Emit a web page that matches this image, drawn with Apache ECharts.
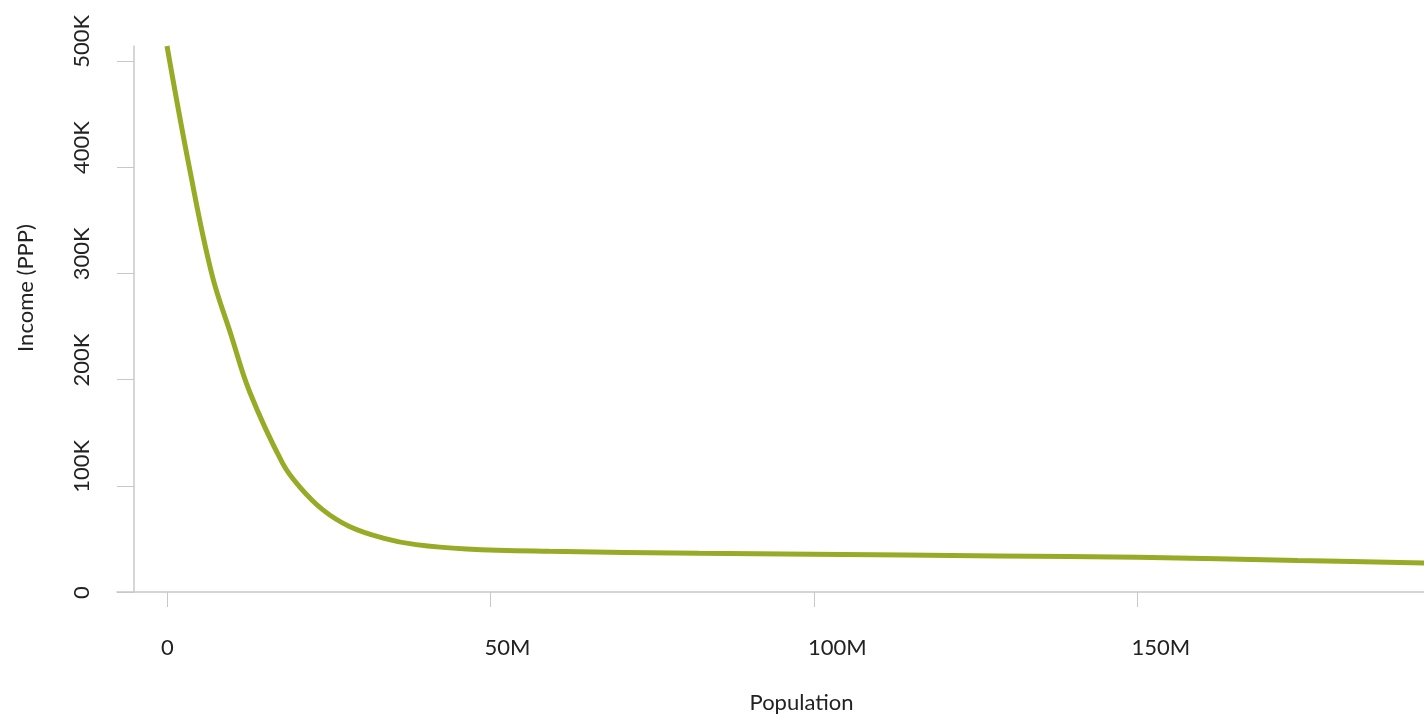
<!DOCTYPE html>
<html>
<head>
<meta charset="utf-8">
<script src="https://cdn.jsdelivr.net/npm/echarts@6/dist/echarts.min.js"></script>
<style>
html,body{margin:0;padding:0;background:#fff;overflow:hidden;}
#chart{width:1424px;height:719px;}
</style>
</head>
<body>
<div id="chart"></div>
<script>
// Population (people) vs income (PPP)
const population = [0, 3.44e6, 6.9e6, 9.9e6, 12.8e6, 17.9e6, 20.5e6, 24.1e6, 28.2e6, 33.4e6, 38.5e6, 46.3e6, 59.1e6, 82.3e6, 99.7e6, 128.5e6, 150e6, 174.8e6, 194.5e6];
const income = [514000, 400000, 300000, 242000, 188000, 120800, 99000, 77300, 61700, 50800, 44600, 40500, 38300, 36500, 35500, 34000, 32700, 29600, 27300];
const xTicks = [0, 50e6, 100e6, 150e6];
const yTicks = [0, 100000, 200000, 300000, 400000, 500000];

const chart = echarts.init(document.getElementById('chart'));
const font = 'Lato, "Open Sans", sans-serif';
const axisGray = '#c8c8c8';
chart.setOption({
  animation: false,
  grid: {left: 117, right: 0, top: 46, bottom: 123, containLabel: false},
  xAxis: {
    type: 'value',
    min: -7.73e6,
    max: 194.3e6,
    splitLine: {show: false},
    axisLine: {onZero: false, lineStyle: {color: axisGray, width: 1.5}},
    axisTick: {customValues: xTicks, length: 15, lineStyle: {color: axisGray, width: 1}},
    axisLabel: {
      customValues: xTicks,
      margin: 45, fontSize: 22, color: '#222', fontFamily: font, align: 'left', padding: [0, 0, 0, -6],
      formatter: v => v === 0 ? '0' : (v / 1e6) + 'M'
    },
    name: 'Population',
    nameLocation: 'middle',
    nameGap: 100,
    nameTextStyle: {fontSize: 22, color: '#222', fontFamily: font, padding: [0, 0, 0, 62]}
  },
  yAxis: {
    type: 'value',
    min: 0,
    max: 514000,
    offset: -17,
    splitLine: {show: false},
    axisLine: {onZero: false, lineStyle: {color: axisGray, width: 1.5}},
    axisTick: {customValues: yTicks, length: 17, lineStyle: {color: axisGray, width: 1}},
    axisLabel: {
      customValues: yTicks,
      rotate: 90, margin: 41, fontSize: 22, color: '#222', fontFamily: font,
      align: 'left', verticalAlign: 'bottom', padding: [0, 0, 0, -7],
      formatter: v => v === 0 ? '0' : (v / 1000) + 'K'
    },
    name: 'Income (PPP)',
    nameLocation: 'middle',
    nameGap: 97,
    nameTextStyle: {fontSize: 22, color: '#222', fontFamily: font, padding: [0, 0, 0, 62]}
  },
  series: [{
    type: 'line',
    data: population.map((p, i) => [p, income[i]]),
    smooth: 0.4,
    showSymbol: false,
    clip: true,
    lineStyle: {color: '#97ab26', width: 5},
    itemStyle: {color: '#97ab26'}
  }]
});
</script>
</body>
</html>
